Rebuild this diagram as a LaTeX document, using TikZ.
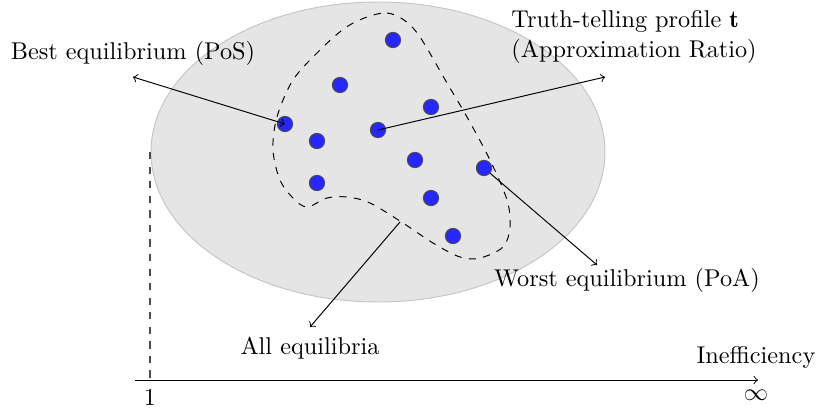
\documentclass[tikz,border=0pt]{standalone}
\usepackage{fontspec}
\begin{document}
\begin{tikzpicture}[x=0.412pt,y=-0.412pt,
  dot/.style={circle,draw=black!70,fill=blue!85,inner sep=0pt,minimum size=6.3pt},
  lbl/.style={inner sep=0pt,font=\normalsize},
  >=to]
\useasboundingbox (0,0) rectangle (816,410);
% region
\draw[draw=gray!45,fill=gray!20] (378,152) ellipse [x radius=227,y radius=150];
% axis
\coordinate (ax0) at (135,380);
\coordinate (ax1) at (758,380);
\coordinate (v0) at (150,152);
\coordinate (v1) at (150,380);
\draw[dashed,black!70,line width=0.5pt] (v0) -- (v1);
\draw[->] (ax0) -- (ax1);
\node[lbl] (one) at (150,397) {1};
\node[lbl] (inf) at (756,395) {$\infty$};
\node[lbl] (ineff) at (756,357) {Inefficiency};
% blob
\draw[dashed] plot[smooth cycle,tension=0.55] coordinates {
 (367,17) (387,13) (404,20) (420,37) (447,83) (467,117) (490,160) (507,200)
 (510,227) (503,247) (480,258) (460,257) (433,243) (403,223) (370,203) (347,197)
 (327,198) (307,207) (293,198) (280,180) (273,150) (277,117) (293,80) (320,50) (345,28)};
% labels
\node[lbl] (pos) at (133,53) {Best equilibrium (PoS)};
\node[lbl,align=left,anchor=west] (truth) at (511,37) {Truth-telling profile $\mathbf{t}$\\(Approximation Ratio)};
\node[lbl] (poa) at (627,280) {Worst equilibrium (PoA)};
\node[lbl] (all) at (310,348) {All equilibria};
\coordinate (posend) at (133,77);
\coordinate (truthend) at (605,77);
\coordinate (poaend) at (597,265);
\coordinate (allend) at (310,327);
\coordinate (allstart) at (400,222);
% PoA arrow under dot
\coordinate (dpoa) at (484,168);
\draw[<->] (poaend) -- (dpoa);
% dots
\node[dot] (d1) at (393,40) {};
\node[dot] (d2) at (340,85) {};
\node[dot] (d3) at (431,107) {};
\node[dot] (d4) at (285,124) {};
\node[dot] (d5) at (317,141) {};
\node[dot] (d6) at (378,130) {};
\node[dot] (d7) at (415,160) {};
\node[dot] (d8) at (484,168) {};
\node[dot] (d9) at (317,183) {};
\node[dot] (d10) at (431,198) {};
\node[dot] (d11) at (453,236) {};
% connectors
\draw[<->] (posend) -- (d4.center);
\draw[->] (d6.center) -- (truthend);
\draw[->] (allstart) -- (allend);
\end{tikzpicture}
\end{document}
